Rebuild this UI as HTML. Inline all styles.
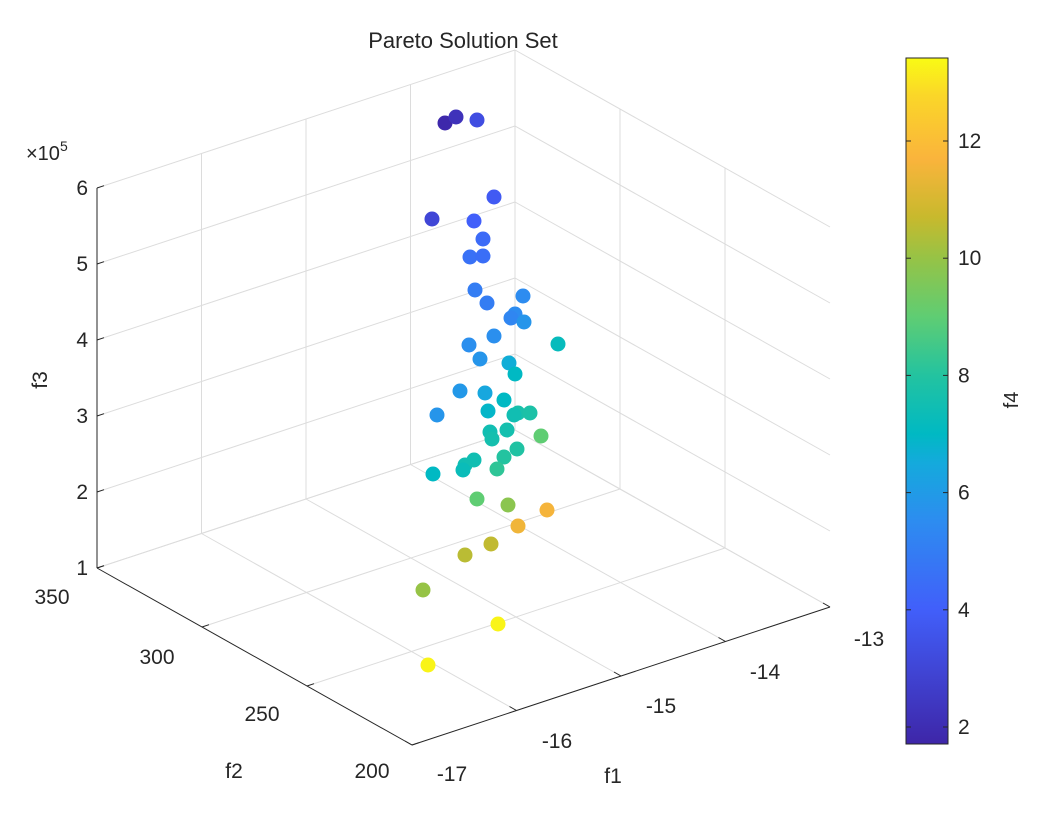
<!DOCTYPE html>
<html><head><meta charset="utf-8"><style>
html,body{margin:0;padding:0;background:#fff;}
svg text{font-family:"Liberation Sans",Arial,sans-serif;fill:#262626;}
</style></head><body>
<svg id="s" width="1044" height="816" xmlns="http://www.w3.org/2000/svg">
<defs>
<linearGradient id="pg" x1="0" y1="1" x2="0" y2="0">
<stop offset="0" stop-color="rgb(62,38,168)"/>
<stop offset="0.196" stop-color="rgb(65,95,250)"/>
<stop offset="0.324" stop-color="rgb(45,140,240)"/>
<stop offset="0.41" stop-color="rgb(20,170,220)"/>
<stop offset="0.452" stop-color="rgb(0,185,195)"/>
<stop offset="0.537" stop-color="rgb(35,195,160)"/>
<stop offset="0.623" stop-color="rgb(95,205,115)"/>
<stop offset="0.708" stop-color="rgb(150,195,70)"/>
<stop offset="0.768" stop-color="rgb(200,185,45)"/>
<stop offset="0.853" stop-color="rgb(250,180,60)"/>
<stop offset="0.947" stop-color="rgb(250,215,40)"/>
<stop offset="1" stop-color="rgb(249,251,20)"/>
</linearGradient>
</defs>
<g id="grid" stroke="#dcdcdc" stroke-width="1" fill="none"></g>
<g id="axes" stroke="#262626" stroke-width="1" fill="none"></g>
<g id="pts"></g>
<text x="463" y="48" font-size="22" text-anchor="middle">Pareto Solution Set</text>
<g font-size="21" text-anchor="end" id="f3l"></g>
<text x="26" y="160" font-size="20">×10<tspan font-size="14" dy="-9">5</tspan></text>
<g font-size="21" text-anchor="middle">
<text x="52" y="604">350</text><text x="157" y="664">300</text><text x="262" y="721">250</text><text x="372" y="778">200</text>
<text x="452" y="781">-17</text><text x="557" y="748">-16</text><text x="661" y="713">-15</text><text x="765" y="679">-14</text><text x="869" y="646">-13</text>
<text x="613" y="783">f1</text><text x="234" y="778">f2</text>
</g>
<text transform="translate(47,380) rotate(-90)" font-size="21" text-anchor="middle">f3</text>
<rect x="906" y="58" width="42" height="686" fill="url(#pg)" stroke="#262626" stroke-width="1"/>
<g id="cb" font-size="21"></g>
<text transform="translate(1018,400) rotate(-90)" font-size="20" text-anchor="middle">f4</text>
</svg>
<script>
var NS="http://www.w3.org/2000/svg";
function el(p,t,a,txt){var e=document.createElementNS(NS,t);for(var k in a)e.setAttribute(k,a[k]);if(txt!==undefined)e.textContent=txt;document.getElementById(p).appendChild(e);return e;}
function ln(p,x1,y1,x2,y2,c){var a={x1:x1,y1:y1,x2:x2,y2:y2};if(c)a.stroke=c;el(p,"line",a);}
for(var i=0;i<=5;i++){var y=568-76*i;ln("grid",97,y,515,y-138);ln("grid",515,y-138,830,y-138+177);}
for(var k=1;k<=4;k++){var x=97+104.5*k,y=568-34.5*k;ln("grid",x,y,x,y-380);}
for(var j=1;j<=2;j++){ln("grid",515+105*j,430+59*j,515+105*j,430+59*j-380);}
for(var k=1;k<=3;k++){var x=97+104.5*k,y=568-34.5*k;ln("grid",x,y,x+315,y+177);}
for(var j=1;j<=2;j++){var x=97+105*j,y=568+59*j;ln("grid",x,y,x+418,y-138);}
ln("grid",97,568,515,430);ln("grid",515,430,830,607);
ln("axes",97,188,97,568);ln("axes",97,568,412,745);ln("axes",412,745,830,607);
for(var i=0;i<=5;i++){var y=568-76*i;ln("axes",97,y,104,y-2.3);el("f3l","text",{x:88,y:y+7},String(i+1));}
for(var j=0;j<=3;j++){var x=97+105*j,y=568+59*j;ln("axes",x,y,x+7,y-2.3);}
for(var k=0;k<=4;k++){var x=412+104.5*k,y=745-34.5*k;ln("axes",x,y,x-7,y-4);}
for(var v=2;v<=12;v+=2){var y=727-(v-2)*58.6;ln("cb",906,y,911,y,"#262626");ln("cb",948,y,943,y,"#262626");el("cb","text",{x:958,y:y+7},String(v));}
var st=[[0,62,38,168],[0.196,65,95,250],[0.324,45,140,240],[0.41,20,170,220],[0.452,0,185,195],[0.537,35,195,160],[0.623,95,205,115],[0.708,150,195,70],[0.768,200,185,45],[0.853,250,180,60],[0.947,250,215,40],[1,249,251,20]];
function col(f){var t=(f-1.71)/(13.42-1.71);t=Math.max(0,Math.min(1,t));for(var i=1;i<st.length;i++){if(t<=st[i][0]){var a=st[i-1],b=st[i],u=(t-a[0])/(b[0]-a[0]);return "rgb("+[1,2,3].map(function(c){return Math.round(a[c]+(b[c]-a[c])*u)}).join(",")+")";}}return "rgb(249,251,20)";}
var P=[[445,123,1.8],[456,117,2.2],[477,120,3.3],[494,197,3.8],[432,219,3.0],[474,221,4.0],[483,239,4.4],[470,257,4.6],[483,256,4.5],[475,290,5],[487,303,5],[523,296,5.5],[515,314,5.5],[511,318,5.3],[524,322,5.8],[494,336,5.6],[469,345,5.6],[558,344,7.2],[480,359,5.8],[509,363,6.6],[515,374,7],[460,391,5.9],[485,393,6.4],[504,400,7],[437,415,5.8],[488,411,6.9],[518,413,7.7],[530,413,7.8],[514,415,7.5],[507,430,7.6],[490,432,7.5],[541,436,9],[492,439,7.6],[517,449,7.9],[504,457,8],[474,460,7.5],[465,465,7.5],[463,470,7.3],[433,474,7],[497,469,8.2],[477,499,9],[508,505,9.8],[547,510,11.6],[518,526,11.5],[491,544,10.6],[465,555,10.5],[423,590,10],[498,624,13.3],[428,665,13.3]];
P.forEach(function(p){el("pts","circle",{cx:p[0],cy:p[1],r:7.5,fill:col(p[2])});});
</script>
</body></html>
